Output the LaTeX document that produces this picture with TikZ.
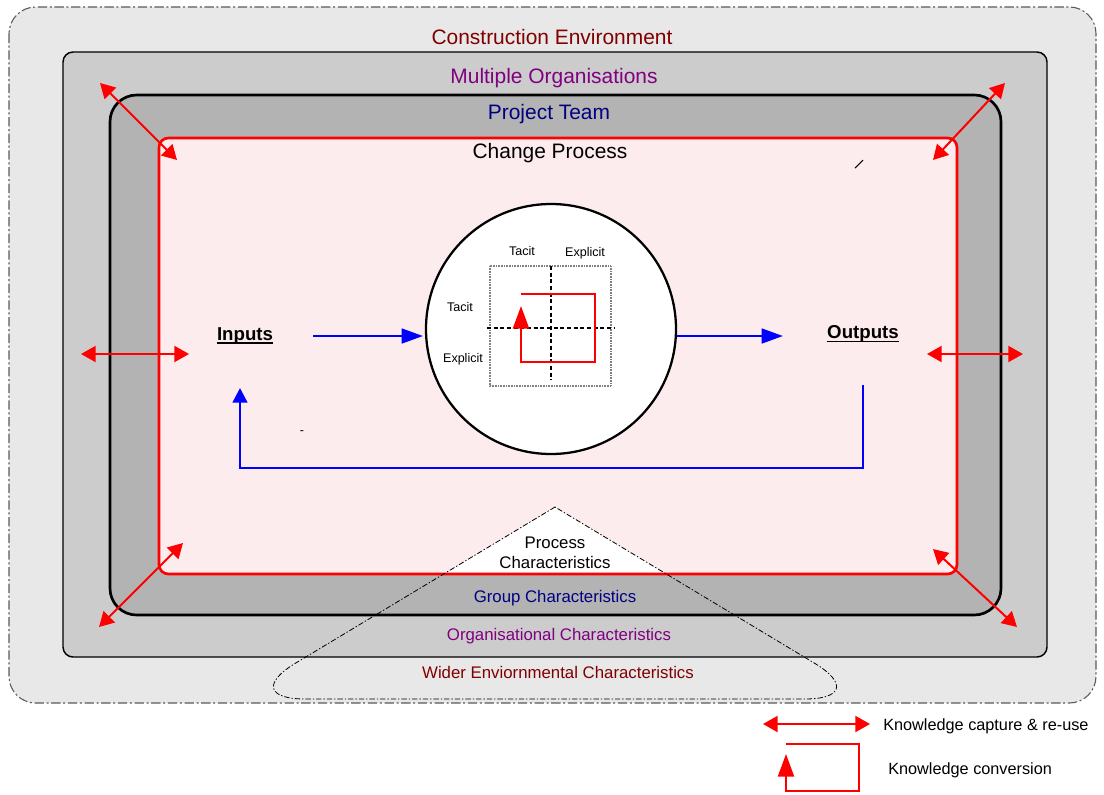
\documentclass[tikz,border=0pt]{standalone}
\usepackage{fontspec}
\setmainfont{Liberation Sans}
\usetikzlibrary{arrows.meta,calc}

\definecolor{envfill}{RGB}{232,232,232}
\definecolor{orgfill}{RGB}{204,204,204}
\definecolor{teamfill}{RGB}{179,179,179}
\definecolor{procfill}{RGB}{252,236,238}
\definecolor{envred}{RGB}{128,0,0}
\definecolor{orgpurple}{RGB}{128,0,128}
\definecolor{teamnavy}{RGB}{0,0,128}
\definecolor{linkred}{RGB}{255,0,0}
\definecolor{flowblue}{RGB}{0,0,255}
\definecolor{edgegray}{RGB}{90,90,90}

\tikzset{
  layerlabel/.style={font=\fontsize{15.7}{18}\selectfont, inner sep=0pt, anchor=base},
  charlabel/.style={font=\fontsize{12.6}{15}\selectfont, inner sep=0pt, anchor=base},
  quadlabel/.style={font=\fontsize{9.4}{11}\selectfont, inner sep=0pt, anchor=base},
  iolabel/.style={font=\bfseries\fontsize{14}{17}\selectfont, inner sep=0pt, anchor=base},
  legendtext/.style={font=\fontsize{12.2}{15}\selectfont, inner sep=0pt, anchor=base west},
  capture/.style={draw=linkred, line width=1.5pt,
    {Triangle[length=11pt,width=12pt]}-{Triangle[length=11pt,width=12pt]}},
  flow/.style={draw=flowblue, line width=2pt, -{Triangle[length=16pt,width=11pt]}},
  feedback/.style={draw=flowblue, line width=2pt, -{Triangle[length=11pt,width=11pt]}},
  convert/.style={draw=linkred, line width=1.8pt, -{Triangle[length=17pt,width=12pt]}},
}

\begin{document}
\begin{tikzpicture}[x=0.75pt,y=-0.75pt]
  % canvas
  \path[use as bounding box, fill=white] (0,0) rectangle (1104,794);

  % nested context boxes
  \draw[fill=envfill, draw=edgegray, line width=0.8pt, rounded corners=20pt,
        dash pattern=on 7pt off 2pt on 1.5pt off 2pt] (9,7) rectangle (1096,703);
  \draw[fill=orgfill, draw=black, line width=1.1pt, rounded corners=7.5pt]
        (63,52) rectangle (1047,657);
  \draw[fill=teamfill, draw=black, line width=2pt, rounded corners=20pt]
        (110,95) rectangle (1001,615);
  \fill[procfill, rounded corners=7pt] (159,138) rectangle (957,574);

  % characteristics triangle: white where it overlaps the change process
  \coordinate (apex) at (555,507);
  \coordinate (tbl) at (236,699);
  \coordinate (tbr) at (874,699);
  \begin{scope}
    \clip[rounded corners=7pt] (159,138) rectangle (957,574);
    \fill[white] (apex) [rounded corners=52pt] -- (tbl) -- (tbr) -- (apex);
  \end{scope}
  \draw[draw=red, line width=2pt, rounded corners=7pt] (159,138) rectangle (957,574);
  \draw[black, line width=0.6pt, dash pattern=on 4pt off 1.5pt on 1pt off 1.5pt]
        (apex) [rounded corners=52pt] -- (tbl) -- (tbr) -- (apex);

  % layer titles
  \node[layerlabel, text=envred]    (envtitle)  at (552,44)  {Construction Environment};
  \node[layerlabel, text=orgpurple] (orgtitle)  at (554,83)  {Multiple Organisations};
  \node[layerlabel, text=teamnavy]  (teamtitle) at (549,119) {Project Team};
  \node[layerlabel, text=black]     (proctitle) at (550,158) {Change Process};

  % characteristics labels
  \node[charlabel] (proccar1) at (555,548) {Process};
  \node[charlabel] (proccar2) at (555,568) {Characteristics};
  \node[charlabel, text=teamnavy]  (groupcar) at (555,602) {Group Characteristics};
  \node[charlabel, text=orgpurple] (orgcar)   at (559,640) {Organisational Characteristics};
  \node[charlabel, text=envred]    (widercar) at (558,678) {Wider Enviornmental Characteristics};

  % knowledge conversion matrix
  \node[circle, draw=black, fill=white, line width=1.7pt, minimum size=187.5pt,
        inner sep=0pt] (matrix) at (551,329) {};
  \draw[gray, line width=0.8pt, dash pattern=on 0.6pt off 0.6pt] (490,266) rectangle (611,386);
  \coordinate (vtop) at (551,266);
  \coordinate (vbot) at (551,380);
  \coordinate (hleft) at (487,328);
  \coordinate (hright) at (614,328);
  \draw[black, line width=0.9pt, dash pattern=on 3pt off 2pt] (vtop) -- (vbot);
  \draw[black, line width=0.9pt, dash pattern=on 3pt off 2pt] (hleft) -- (hright);
  \node[quadlabel] (tacittop)  at (522,255) {Tacit};
  \node[quadlabel] (explitop)  at (585,256) {Explicit};
  \node[quadlabel] (tacitleft) at (460,311) {Tacit};
  \node[quadlabel] (explileft) at (463,362.5) {Explicit};
  \coordinate (loopstart) at (521,294);
  \coordinate (loopend) at (521,306);
  \draw[convert] (loopstart) -- (595,294) -- (595,362) -- (521,362) -- (loopend);

  % inputs and outputs
  \node[iolabel] (inputs)  at (245,340) {Inputs};
  \node[iolabel] (outputs) at (863,338.5) {Outputs};
  \draw[black, line width=1.4pt] ($(inputs.base west)+(0,3)$) -- ($(inputs.base east)+(0,3)$);
  \draw[black, line width=1.4pt] ($(outputs.base west)+(0,3)$) -- ($(outputs.base east)+(0,3)$);

  \coordinate (inflow) at (313,336);
  \coordinate (matrixin) at (423,336);
  \coordinate (matrixout) at (677,336);
  \coordinate (outflow) at (783,336);
  \draw[flow] (inflow) -- (matrixin);
  \draw[flow] (matrixout) -- (outflow);

  \coordinate (fbstart) at (863,385);
  \coordinate (fbend) at (240,388);
  \draw[feedback] (fbstart) -- (863,468) -- (240,468) -- (fbend);

  % stray marks
  \node[quadlabel, anchor=center] (dash) at (302,433) {-};
  \coordinate (slasha) at (855,168);
  \coordinate (slashb) at (863,160);
  \draw[black, line width=0.8pt] (slasha) -- (slashb);

  % knowledge capture and re-use across boundaries
  \coordinate (tlout) at (100,83);   \coordinate (tlin) at (177,160);
  \coordinate (trout) at (1005,83);  \coordinate (trin) at (933,160);
  \coordinate (blout) at (99,627);   \coordinate (blin) at (183,543);
  \coordinate (brout) at (1017,627); \coordinate (brin) at (933,549);
  \coordinate (lout) at (81,354);    \coordinate (lin) at (189,354);
  \coordinate (rin) at (927,354);    \coordinate (rout) at (1023,354);
  \draw[capture] (tlout) -- (tlin);
  \draw[capture] (trout) -- (trin);
  \draw[capture] (blout) -- (blin);
  \draw[capture] (brout) -- (brin);
  \draw[capture] (lout) -- (lin);
  \draw[capture] (rin) -- (rout);

  % legend
  \coordinate (legcapa) at (763,724);
  \coordinate (legcapb) at (870,724);
  \draw[capture] (legcapa) -- (legcapb);
  \node[legendtext] (legcaptext) at (883,730) {Knowledge capture \& re-use};
  \coordinate (legloopa) at (786,744);
  \coordinate (legloopb) at (786,754);
  \draw[convert] (legloopa) -- (859,744) -- (859,791) -- (786,791) -- (legloopb);
  \node[legendtext] (legconvtext) at (888,774) {Knowledge conversion};
\end{tikzpicture}
\end{document}
